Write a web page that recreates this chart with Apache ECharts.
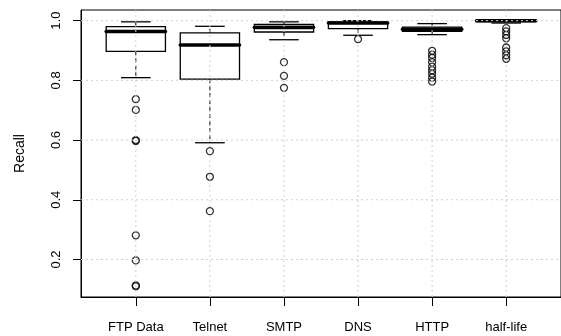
<!DOCTYPE html>
<html>
<head>
<meta charset="utf-8">
<script src="https://cdn.jsdelivr.net/npm/echarts@6/dist/echarts.min.js"></script>
<style>
html,body{margin:0;padding:0;background:#fff;}
#chart{width:561px;height:336px;}
</style>
</head>
<body>
<div id="chart"></div>
<script>
// ---- data ----
const categories = ['FTP Data', 'Telnet', 'SMTP', 'DNS', 'HTTP', 'half-life'];
const whiskerLow  = [0.809, 0.591, 0.936, 0.951, 0.953, 0.992];
const q1          = [0.897, 0.804, 0.962, 0.973, 0.964, 0.997];
const median      = [0.964, 0.918, 0.977, 0.992, 0.971, 1.000];
const q3          = [0.980, 0.959, 0.987, 0.996, 0.978, 1.000];
const whiskerHigh = [0.996, 0.981, 0.996, 1.000, 0.990, 1.000];
const outliersFTP      = [0.737, 0.701, 0.600, 0.597, 0.281, 0.197, 0.113, 0.110];
const outliersTelnet   = [0.563, 0.477, 0.362];
const outliersSMTP     = [0.861, 0.815, 0.775];
const outliersDNS      = [0.938];
const outliersHTTP     = [0.899, 0.886, 0.875, 0.861, 0.846, 0.834, 0.822, 0.809, 0.796];
const outliersHalfLife = [0.975, 0.964, 0.952, 0.941, 0.910, 0.897, 0.884, 0.872];
const yTicks = [0.2, 0.4, 0.6, 0.8, 1.0];
const yLabel = 'Recall';

const outlierLists = [outliersFTP, outliersTelnet, outliersSMTP, outliersDNS, outliersHTTP, outliersHalfLife];
const catPos = categories.map((c, i) => i + 1);

const boxData = categories.map((c, i) => [i + 1, whiskerLow[i], q1[i], median[i], q3[i], whiskerHigh[i]]);
const outlierData = [];
outlierLists.forEach((list, i) => list.forEach(v => outlierData.push([i + 1, v])));

const FONT = 'Liberation Sans, Arial, sans-serif';

function renderBox(params, api) {
  const x = api.value(0);
  const lo = api.coord([x, api.value(1)]);
  const b1 = api.coord([x, api.value(2)]);
  const md = api.coord([x, api.value(3)]);
  const b3 = api.coord([x, api.value(4)]);
  const hi = api.coord([x, api.value(5)]);
  const halfW = api.size([0.8, 0])[0] / 2;
  const capHalf = halfW / 2;
  const cx = lo[0];
  const black = '#000';
  return {
    type: 'group',
    children: [
      { type: 'line', shape: { x1: cx, y1: b3[1], x2: cx, y2: hi[1] },
        style: { stroke: black, lineWidth: 1, lineDash: [4, 3] } },
      { type: 'line', shape: { x1: cx, y1: b1[1], x2: cx, y2: lo[1] },
        style: { stroke: black, lineWidth: 1, lineDash: [4, 3] } },
      { type: 'line', shape: { x1: cx - capHalf, y1: hi[1], x2: cx + capHalf, y2: hi[1] },
        style: { stroke: black, lineWidth: 1.3 } },
      { type: 'line', shape: { x1: cx - capHalf, y1: lo[1], x2: cx + capHalf, y2: lo[1] },
        style: { stroke: black, lineWidth: 1.3 } },
      { type: 'rect', shape: { x: cx - halfW, y: b3[1], width: halfW * 2, height: b1[1] - b3[1] },
        style: { fill: 'none', stroke: black, lineWidth: 1.3 } },
      { type: 'line', shape: { x1: cx - halfW, y1: md[1], x2: cx + halfW, y2: md[1] },
        style: { stroke: black, lineWidth: 3.5, lineCap: 'round' } }
    ]
  };
}

function renderVGrid(params, api) {
  const cs = params.coordSys;
  const p = api.coord([api.value(0), yTicks[0]]);
  return { type: 'line', shape: { x1: p[0], y1: cs.y, x2: p[0], y2: cs.y + cs.height },
    style: { stroke: '#cfcfcf', lineWidth: 1, lineDash: [2, 3] } };
}
function renderHGrid(params, api) {
  const cs = params.coordSys;
  const p = api.coord([catPos[0], api.value(0)]);
  return { type: 'line', shape: { x1: cs.x, y1: p[1], x2: cs.x + cs.width, y2: p[1] },
    style: { stroke: '#cfcfcf', lineWidth: 1, lineDash: [2, 3] } };
}

const chart = echarts.init(document.getElementById('chart'), null, { renderer: 'canvas' });
chart.setOption({
  animation: false,
  backgroundColor: '#fff',
  grid: { left: 81, top: 10, bottom: 39, right: -11, show: true, borderColor: '#000', borderWidth: 1, backgroundColor: 'transparent' },
  xAxis: {
    type: 'value', min: 0.26, max: 6.74,
    axisLine: { show: true, lineStyle: { color: '#000', width: 1 } },
    axisTick: { show: true, customValues: catPos, length: 9, lineStyle: { color: '#000', width: 1 } },
    axisLabel: { customValues: catPos, formatter: v => categories[Math.round(v) - 1], margin: 24,
      fontSize: 13, color: '#000', fontFamily: FONT },
    splitLine: { show: false }
  },
  yAxis: {
    type: 'value', min: 0.0744, max: 1.0356,
    axisLine: { show: true, lineStyle: { color: '#000', width: 1 } },
    axisTick: { show: true, customValues: yTicks, length: 8, lineStyle: { color: '#000', width: 1 } },
    axisLabel: { customValues: yTicks, formatter: v => v.toFixed(1), rotate: 90, margin: 18,
      fontSize: 13, color: '#000', fontFamily: FONT },
    splitLine: { show: false },
    name: yLabel, nameLocation: 'middle', nameRotate: 90, nameGap: 54,
    nameTextStyle: { fontSize: 14, color: '#000', fontFamily: FONT }
  },
  series: [
    { type: 'custom', renderItem: renderBox, data: boxData, encode: { x: 0, y: [1, 2, 3, 4, 5] }, z: 2, silent: true },
    { type: 'scatter', data: outlierData, symbol: 'circle', symbolSize: 7,
      itemStyle: { color: 'rgba(0,0,0,0)', borderColor: '#000', borderWidth: 1.3 }, z: 3, silent: true },
    { type: 'custom', renderItem: renderVGrid, data: catPos.map(v => [v]), encode: { x: 0 }, z: 10, silent: true },
    { type: 'custom', renderItem: renderHGrid, data: yTicks.map(v => [v]), encode: { y: 0 }, z: 10, silent: true }
  ]
});
</script>
</body>
</html>
